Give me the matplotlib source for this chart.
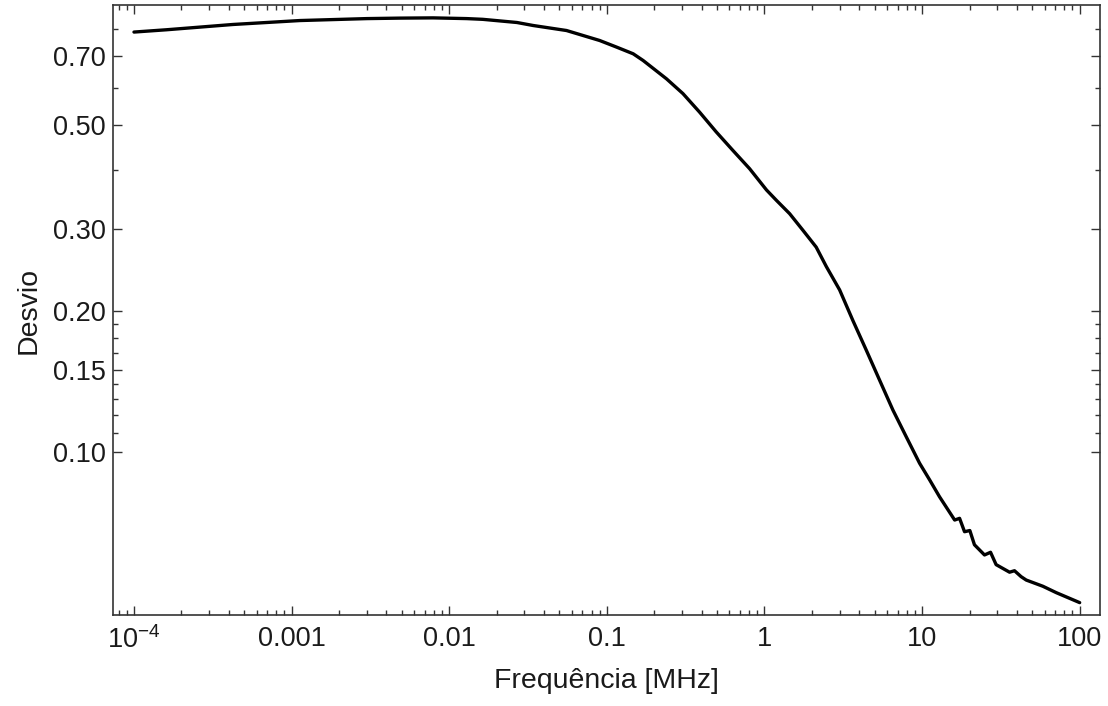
import matplotlib
matplotlib.use("Agg")
import matplotlib.pyplot as plt
from matplotlib.ticker import FixedLocator, NullFormatter

# --- Data ---
freq_mhz = [1e-4, 1.61e-4, 4.25e-4, 1.13e-3, 1.84e-3, 3.0e-3, 4.87e-3, 7.9e-3,
            0.0129, 0.0163, 0.0269, 0.034, 0.0555, 0.090, 0.115, 0.147, 0.17,
            0.239, 0.304, 0.388, 0.494, 0.63, 0.805, 1.03, 1.19, 1.445, 1.75,
            2.13, 2.47, 3.0, 3.64, 4.43, 5.37, 6.53, 7.94, 9.64, 11.2, 12.9,
            16.1, 17.3, 18.6, 20.1, 21.5, 24.9, 27.2, 29.5, 35.9, 38.6, 42.5,
            45.8, 58.4, 71.0, 100.0]
desvio = [0.789, 0.798, 0.819, 0.835, 0.839, 0.843, 0.845, 0.846,
          0.843, 0.840, 0.827, 0.815, 0.795, 0.757, 0.733, 0.709, 0.686,
          0.627, 0.583, 0.532, 0.483, 0.441, 0.403, 0.363, 0.345, 0.323, 0.298,
          0.274, 0.249, 0.222, 0.191, 0.165, 0.1426, 0.123, 0.1078, 0.0947, 0.0871, 0.0803,
          0.0716, 0.0722, 0.0676, 0.0680, 0.0634, 0.0603, 0.0611, 0.0575, 0.0554, 0.0558, 0.0542,
          0.0533, 0.0517, 0.0501, 0.0477]

x_ticks = [1e-4, 1e-3, 1e-2, 1e-1, 1, 10, 100]
x_labels = [r"$10^{-4}$", "0.001", "0.01", "0.1", "1", "10", "100"]
y_ticks = [0.10, 0.15, 0.20, 0.30, 0.50, 0.70]
y_labels = ["0.10", "0.15", "0.20", "0.30", "0.50", "0.70"]
y_minor = [0.11, 0.12, 0.13, 0.14, 0.1625, 0.175, 0.1875, 0.4, 0.6, 0.8]

plt.rcParams["font.family"] = ["Liberation Sans", "DejaVu Sans"]
plt.rcParams["mathtext.fontset"] = "custom"
plt.rcParams["mathtext.rm"] = "Liberation Sans"
plt.rcParams["mathtext.it"] = "Liberation Sans"

text_color = "#1a1a1a"
axis_color = "#333333"

fig = plt.figure(figsize=(11.08, 7.06), dpi=100)
ax = fig.add_axes([0.102, 0.129, 0.8905, 0.8635])

ax.plot(freq_mhz, desvio, color="black", lw=2.4,
        solid_joinstyle="round", solid_capstyle="round")

ax.set_xscale("log")
ax.set_yscale("log")
ax.set_xlim(10 ** -4.133, 10 ** 2.127)
ax.set_ylim(0.0449, 0.90)

ax.xaxis.set_major_locator(FixedLocator(x_ticks))
ax.set_xticklabels(x_labels)
ax.yaxis.set_major_locator(FixedLocator(y_ticks))
ax.set_yticklabels(y_labels)
ax.yaxis.set_minor_locator(FixedLocator(y_minor))
ax.yaxis.set_minor_formatter(NullFormatter())

ax.tick_params(which="both", direction="in", top=True, right=True,
               color=axis_color, width=1.0, labelsize=19.5, labelcolor=text_color)
ax.tick_params(which="major", length=6.5)
ax.tick_params(which="minor", length=3.5)
ax.tick_params(axis="x", which="major", pad=8)
ax.tick_params(axis="y", which="major", pad=5)

for sp in ax.spines.values():
    sp.set_color(axis_color)
    sp.set_linewidth(1.2)

ax.set_xlabel("Frequência [MHz]", fontsize=20.5, color=text_color, labelpad=10)
ax.set_ylabel("Desvio", fontsize=20.5, color=text_color, labelpad=8)

fig.savefig("out.png", dpi=100)
